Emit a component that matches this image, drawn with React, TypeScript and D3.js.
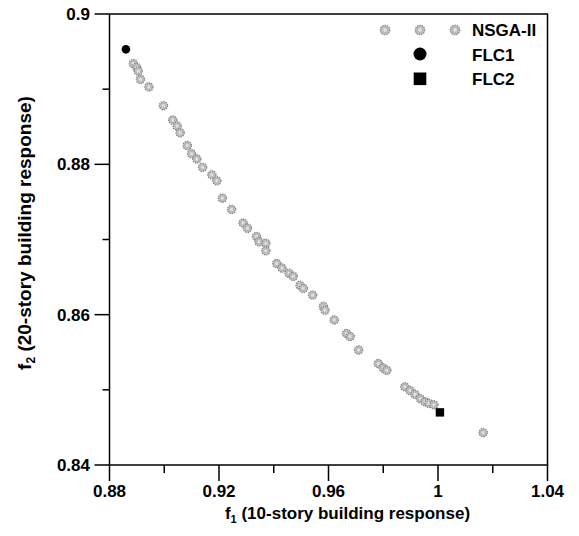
import React from "react";
import * as d3 from "d3";

const nsgaF1 = [
  0.8887, 0.8899, 0.8905, 0.8913, 0.8944, 0.8997, 0.9031, 0.9047, 0.9058, 0.9084,
  0.91, 0.9119, 0.914, 0.9174, 0.9192, 0.9212, 0.9246, 0.9288, 0.9304, 0.9337,
  0.9346, 0.9371, 0.9371, 0.9411, 0.943, 0.9456, 0.9471, 0.9496, 0.9508, 0.9542,
  0.9581, 0.9587, 0.9621, 0.9666, 0.9679, 0.971, 0.9782, 0.98, 0.9813, 0.9879,
  0.9898, 0.9916, 0.9936, 0.9953, 0.9967, 0.9985, 1.0165,
];
const nsgaF2 = [
  0.8934, 0.8929, 0.8924, 0.8913, 0.8903, 0.8878, 0.8859, 0.8851, 0.8842, 0.8825,
  0.8814, 0.8807, 0.8796, 0.8786, 0.8778, 0.8755, 0.874, 0.8722, 0.8715, 0.8704,
  0.8697, 0.8695, 0.8685, 0.8668, 0.8662, 0.8655, 0.8651, 0.8639, 0.8635, 0.8626,
  0.8611, 0.8606, 0.8593, 0.8575, 0.8571, 0.8553, 0.8535, 0.8529, 0.8526, 0.8504,
  0.8499, 0.8494, 0.8488, 0.8484, 0.8482, 0.848, 0.8443,
];
const flc1 = [0.886, 0.8953];
const flc2 = [1.0007, 0.847];

const xTicks = [0.88, 0.92, 0.96, 1.0, 1.04];
const xTickLabels = ["0.88", "0.92", "0.96", "1", "1.04"];
const xMinor = [0.9, 0.94, 0.98, 1.02];
const yTicks = [0.84, 0.86, 0.88, 0.9];
const yTickLabels = ["0.84", "0.86", "0.88", "0.9"];
const yMinor = [0.85, 0.87, 0.89];
const legendLabels = ["NSGA-II", "FLC1", "FLC2"];

const W = 579;
const H = 536;
const L = 109.5, R = 547.5, T = 14, B = 465;

const FONT = "'Liberation Sans', Arial, Helvetica, sans-serif";

function NsgaMarker({ cx, cy, r }: { cx: number; cy: number; r: number }) {
  return (
    <g>
      <circle cx={cx} cy={cy} r={r} fill="#bcbcbc" stroke="#7e7e7e" strokeWidth={1.1} strokeDasharray="1.3 1.1" />
      <circle cx={cx} cy={cy} r={r * 0.45} fill="#e2e2e2" stroke="#9a9a9a" strokeWidth={0.6} strokeDasharray="1 1" />
    </g>
  );
}

export default function App() {
  const x = d3.scaleLinear().domain([0.88, 1.04]).range([L, R]);
  const y = d3.scaleLinear().domain([0.84, 0.9]).range([B, T]);

  return (
    <svg
      width={W}
      height={H}
      viewBox={`0 0 ${W} ${H}`}
      style={{ position: "absolute", left: 0, top: 0, background: "#fff" }}
      fontFamily={FONT}
    >
      <rect x={0} y={0} width={W} height={H} fill="#fff" />
      {/* frame */}
      <rect x={L} y={T} width={R - L} height={B - T} fill="none" stroke="#000" strokeWidth={1.5} />

      {/* x ticks */}
      {xTicks.map((t, i) => (
        <g key={"xt" + i}>
          <line x1={x(t)} x2={x(t)} y1={B} y2={B + 16} stroke="#000" strokeWidth={1.5} />
          <text x={x(t)} y={497} textAnchor="middle" fontSize={17} fontWeight="bold" fill="#000">
            {xTickLabels[i]}
          </text>
        </g>
      ))}
      {xMinor.map((t, i) => (
        <line key={"xm" + i} x1={x(t)} x2={x(t)} y1={B} y2={B + 8} stroke="#000" strokeWidth={1.5} />
      ))}

      {/* y ticks */}
      {yTicks.map((t, i) => (
        <g key={"yt" + i}>
          <line x1={L - 15} x2={L} y1={y(t)} y2={y(t)} stroke="#000" strokeWidth={1.5} />
          <text x={90} y={y(t)} dy="0.36em" textAnchor="end" fontSize={17} fontWeight="bold" fill="#000">
            {yTickLabels[i]}
          </text>
        </g>
      ))}
      {yMinor.map((t, i) => (
        <line key={"ym" + i} x1={L - 7} x2={L} y1={y(t)} y2={y(t)} stroke="#000" strokeWidth={1.5} />
      ))}

      {/* axis titles */}
      <text x={347.5} y={519} textAnchor="middle" fontSize={17} fontWeight="bold" fill="#000">
        f<tspan fontSize={11} dy={4}>1</tspan>
        <tspan dy={-4}> (10-story building response)</tspan>
      </text>
      <text
        transform={`translate(31, 233) rotate(-90)`}
        textAnchor="middle"
        fontSize={19}
        fontWeight="bold"
        fill="#000"
      >
        f<tspan fontSize={12} dy={4}>2</tspan>
        <tspan dy={-4}> (20-story building response)</tspan>
      </text>

      {/* NSGA-II points */}
      {nsgaF1.map((v, i) => (
        <NsgaMarker key={"n" + i} cx={x(v)} cy={y(nsgaF2[i])} r={4.2} />
      ))}

      {/* FLC points */}
      <circle cx={x(flc1[0])} cy={y(flc1[1])} r={4.3} fill="#000" />
      <rect x={x(flc2[0]) - 4.2} y={y(flc2[1]) - 4.2} width={8.4} height={8.4} fill="#000" />

      {/* legend */}
      <NsgaMarker cx={385} cy={30} r={4.8} />
      <NsgaMarker cx={420} cy={30} r={4.8} />
      <NsgaMarker cx={455} cy={30} r={4.8} />
      <circle cx={420} cy={54} r={6.5} fill="#000" />
      <rect x={413.7} y={72.5} width={12.6} height={12.6} fill="#000" />
      {legendLabels.map((s, i) => (
        <text key={"lg" + i} x={472} y={36 + i * 24.5} fontSize={17} fontWeight="bold" fill="#000">
          {s}
        </text>
      ))}
    </svg>
  );
}
